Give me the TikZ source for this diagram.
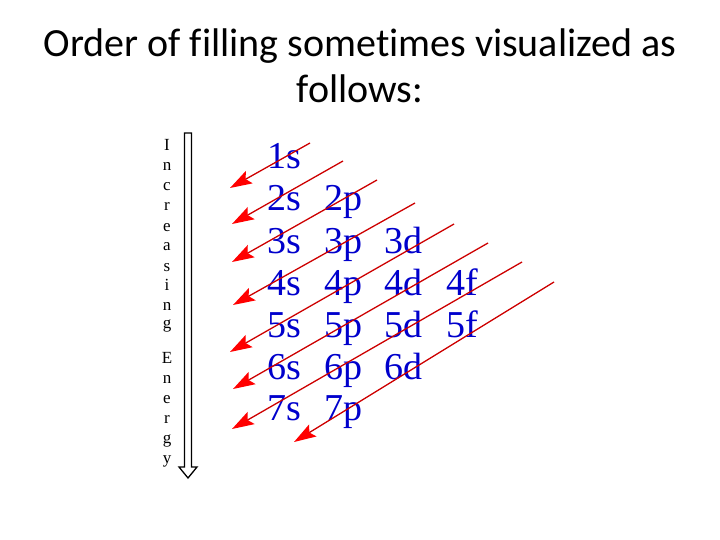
\documentclass[tikz,border=0pt]{standalone}
\usepackage{fontspec}
\setmainfont{Liberation Serif}
\newfontfamily\titlefont[Ligatures=NoCommon]{Carlito}
\usetikzlibrary{arrows.meta}
\definecolor{txtblue}{RGB}{0,0,204}
\definecolor{linered}{RGB}{205,0,0}
\definecolor{headred}{RGB}{255,0,0}
\begin{document}
\begin{tikzpicture}[x=1pt,y=-1pt,
  orb/.style={anchor=base west,inner sep=0pt,text=txtblue,font=\fontsize{38}{38}\selectfont},
  ttl/.style={anchor=base,inner sep=0pt,font=\titlefont\fontsize{40}{40}\selectfont},
  vlet/.style={anchor=base,inner sep=0pt,font=\fontsize{17}{17}\selectfont},
  fillarrow/.style={draw=linered,line width=1.3pt,-{Stealth[length=22pt,width=14pt,inset=4pt,color=headred]}},
  energyarrow/.style={draw=black,line width=1.3pt,fill=white}
]
\useasboundingbox (0,0) rectangle (720,540);

% title
\node[ttl] (t1) at (360,57) {Order of filling sometimes visualized as};
\node[ttl] (t2) at (360,103) {follows:};

% energy arrow
\draw[energyarrow] (184.5,133) -- (191.5,133) -- (191.5,467) -- (197,467) -- (188,478)
  -- (179,467) -- (184.5,467) -- cycle;

% vertical label
\node[vlet] (L1) at (167,151) {I};
\node[vlet] (L2) at (167,171) {n};
\node[vlet] (L3) at (167,191) {c};
\node[vlet] (L4) at (167,211) {r};
\node[vlet] (L5) at (167,231) {e};
\node[vlet] (L6) at (167,251) {a};
\node[vlet] (L7) at (167,271) {s};
\node[vlet] (L8) at (167,290) {i};
\node[vlet] (L9) at (167,310) {n};
\node[vlet] (L10) at (167,328) {g};
\node[vlet] (E1) at (167,363) {E};
\node[vlet] (E2) at (167,383) {n};
\node[vlet] (E3) at (167,403) {e};
\node[vlet] (E4) at (167,423) {r};
\node[vlet] (E5) at (167,443) {g};
\node[vlet] (E6) at (167,463) {y};

% orbitals
\node[orb] (s1) at (267,169) {1s};
\node[orb] (s2) at (267,211) {2s};
\node[orb] (s3) at (267,253) {3s};
\node[orb] (s4) at (267,295) {4s};
\node[orb] (s5) at (267,337) {5s};
\node[orb] (s6) at (267,379) {6s};
\node[orb] (s7) at (267,420) {7s};
\node[orb] (p2) at (324,211) {2p};
\node[orb] (p3) at (324,253) {3p};
\node[orb] (p4) at (324,295) {4p};
\node[orb] (p5) at (324,337) {5p};
\node[orb] (p6) at (324,379) {6p};
\node[orb] (p7) at (324,420) {7p};
\node[orb] (d3) at (384,253) {3d};
\node[orb] (d4) at (384,295) {4d};
\node[orb] (d5) at (384,337) {5d};
\node[orb] (d6) at (384,379) {6d};
\node[orb] (f4) at (446,295) {4f};
\node[orb] (f5) at (446,337) {5f};

% diagonal arrows
\coordinate (a1) at (310,143); \coordinate (b1) at (230,188);
\coordinate (a2) at (343,161); \coordinate (b2) at (232,224);
\coordinate (a3) at (377,180); \coordinate (b3) at (232,262);
\coordinate (a4) at (415,203); \coordinate (b4) at (233,305);
\coordinate (a5) at (454,224); \coordinate (b5) at (230,352);
\coordinate (a6) at (488,243); \coordinate (b6) at (233,389);
\coordinate (a7) at (522,262); \coordinate (b7) at (232,429);
\coordinate (a8) at (554,282); \coordinate (b8) at (294,442);
\foreach \i in {1,...,8} \draw[fillarrow] (a\i) -- (b\i);
\end{tikzpicture}
\end{document}
